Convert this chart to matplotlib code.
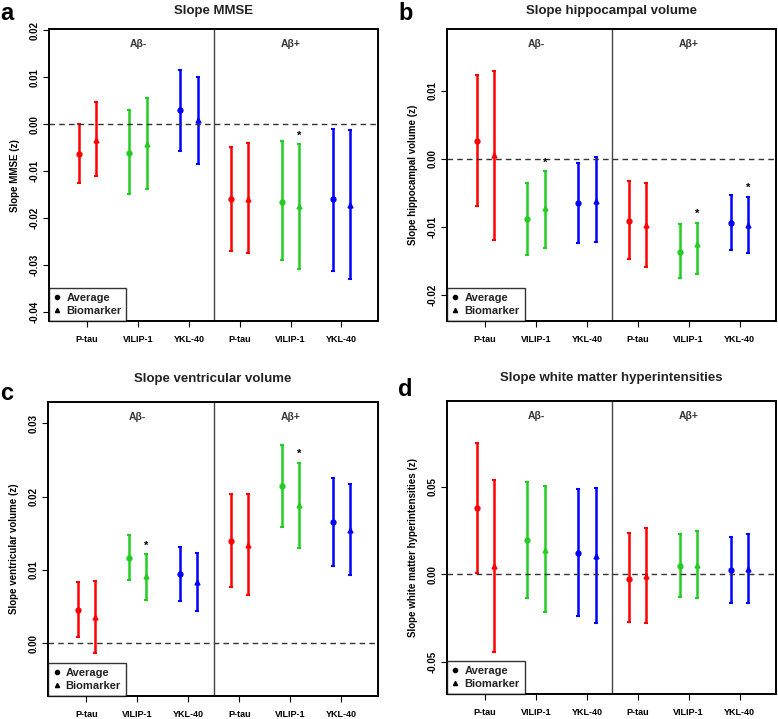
import matplotlib
matplotlib.use("Agg")
import matplotlib.pyplot as plt
import numpy as np

plt.rcParams["font.family"] = ["Liberation Sans", "DejaVu Sans"]

MARKERS = ["P-tau", "VILIP-1", "YKL-40"]
GROUPS = ["Aβ-", "Aβ+"]
COLORS = ["#ff0000", "#22cc22", "#0000ff"]

# order per panel: Aβ- (P-tau, VILIP-1, YKL-40), Aβ+ (P-tau, VILIP-1, YKL-40)
# --- a: MMSE
mmse_avg = [-0.0064, -0.0061, 0.0029, -0.0159, -0.0165, -0.0160]
mmse_avg_lo = [-0.0126, -0.0148, -0.0057, -0.0270, -0.0290, -0.0312]
mmse_avg_hi = [0.0000, 0.0029, 0.0114, -0.0048, -0.0037, -0.0011]
mmse_bio = [-0.0034, -0.0043, 0.0009, -0.0159, -0.0175, -0.0172]
mmse_bio_lo = [-0.0110, -0.0139, -0.0084, -0.0275, -0.0308, -0.0330]
mmse_bio_hi = [0.0046, 0.0055, 0.0100, -0.0040, -0.0043, -0.0013]
mmse_star = [4]

# --- b: hippocampal volume
hip_avg = [0.0026, -0.0089, -0.0065, -0.0091, -0.0137, -0.0094]
hip_avg_lo = [-0.0069, -0.0142, -0.0124, -0.0148, -0.0176, -0.0134]
hip_avg_hi = [0.0123, -0.0035, -0.0006, -0.0033, -0.0096, -0.0053]
hip_bio = [0.0005, -0.0073, -0.0062, -0.0098, -0.0125, -0.0098]
hip_bio_lo = [-0.0120, -0.0131, -0.0122, -0.0159, -0.0169, -0.0139]
hip_bio_hi = [0.0130, -0.0018, 0.0002, -0.0035, -0.0094, -0.0056]
hip_star = [1, 4, 5]

# --- c: ventricular volume
ven_avg = [0.0045, 0.0116, 0.0094, 0.0139, 0.0215, 0.0165]
ven_avg_lo = [0.0009, 0.0086, 0.0058, 0.0076, 0.0159, 0.0105]
ven_avg_hi = [0.0083, 0.0148, 0.0131, 0.0203, 0.0270, 0.0225]
ven_bio = [0.0036, 0.0091, 0.0083, 0.0134, 0.0189, 0.0155]
ven_bio_lo = [-0.0014, 0.0059, 0.0044, 0.0066, 0.0130, 0.0093]
ven_bio_hi = [0.0085, 0.0121, 0.0123, 0.0203, 0.0246, 0.0217]
ven_star = [1, 4]

# --- d: white matter hyperintensities
wmh_avg = [0.0378, 0.0193, 0.0120, -0.0025, 0.0048, 0.0025]
wmh_avg_lo = [0.0006, -0.0137, -0.0240, -0.0275, -0.0128, -0.0164]
wmh_avg_hi = [0.0750, 0.0525, 0.0487, 0.0235, 0.0231, 0.0214]
wmh_bio = [0.0044, 0.0139, 0.0103, -0.0008, 0.0052, 0.0030]
wmh_bio_lo = [-0.0445, -0.0216, -0.0280, -0.0279, -0.0134, -0.0164]
wmh_bio_hi = [0.0538, 0.0502, 0.0490, 0.0263, 0.0244, 0.0231]
wmh_star = []

# letter, title, ylabel, axes rect, title y, letter xy, ylim, yticks, data...
PANELS = [
    ("a", "Slope MMSE", "Slope MMSE (z)", [0.063, 0.5535, 0.423, 0.406],
     1 - 11 / 719, (0.0, 1 - 13 / 719),
     (-0.0419, 0.0202), [-0.04, -0.03, -0.02, -0.01, 0.00, 0.01, 0.02],
     mmse_avg, mmse_avg_lo, mmse_avg_hi, mmse_bio, mmse_bio_lo, mmse_bio_hi, mmse_star),
    ("b", "Slope hippocampal volume", "Slope hippocampal volume (z)", [0.5746, 0.5535, 0.423, 0.406],
     1 - 11 / 719, (398 / 778, 1 - 14 / 719),
     (-0.0239, 0.0191), [-0.02, -0.01, 0.00, 0.01],
     hip_avg, hip_avg_lo, hip_avg_hi, hip_bio, hip_bio_lo, hip_bio_hi, hip_star),
    ("c", "Slope ventricular volume", "Slope ventricular volume (z)", [0.062, 0.032, 0.424, 0.409],
     1 - 379 / 719, (0.0, 1 - 393 / 719),
     (-0.0072, 0.0329), [0.00, 0.01, 0.02, 0.03],
     ven_avg, ven_avg_lo, ven_avg_hi, ven_bio, ven_bio_lo, ven_bio_hi, ven_star),
    ("d", "Slope white matter hyperintensities", "Slope white matter hyperintensities (z)",
     [0.5746, 0.0348, 0.423, 0.4075],
     1 - 378 / 719, (398 / 778, 1 - 390 / 719),
     (-0.0685, 0.099), [-0.05, 0.00, 0.05],
     wmh_avg, wmh_avg_lo, wmh_avg_hi, wmh_bio, wmh_bio_lo, wmh_bio_hi, wmh_star),
]

fig = plt.figure(figsize=(7.78, 7.19), dpi=100)
pos = np.arange(1, 7)
off = 0.17

for (letter, title, ylabel, rect, title_y, letter_xy, ylim, yticks,
     avg, alo, ahi, bio, blo, bhi, stars) in PANELS:
    ax = fig.add_axes(rect)
    avg, alo, ahi = map(np.array, (avg, alo, ahi))
    bio, blo, bhi = map(np.array, (bio, blo, bhi))
    for i in range(6):
        c = COLORS[i % 3]
        ax.errorbar(pos[i] - off, avg[i], yerr=[[avg[i] - alo[i]], [ahi[i] - avg[i]]],
                    fmt="o", color=c, ms=3.5, elinewidth=1.8, capsize=1.5, capthick=1.5)
        ax.errorbar(pos[i] + off, bio[i], yerr=[[bio[i] - blo[i]], [bhi[i] - bio[i]]],
                    fmt="^", color=c, ms=3.5, elinewidth=1.8, capsize=1.5, capthick=1.5)
    span = ylim[1] - ylim[0]
    for i in stars:
        ax.text(pos[i] + off, bhi[i] + 0.012 * span, "*", ha="center", va="bottom",
                fontsize=8, fontweight="bold")
    ax.axhline(0, color="#333333", ls=(0, (4, 3)), lw=1.0)
    ax.axvline(3.5, color="#444444", lw=1.0)
    ax.set_xlim(0.25, 6.72)
    ax.set_ylim(*ylim)
    ax.set_xticks(pos)
    ax.set_xticklabels(MARKERS * 2, fontsize=6.5, fontweight="bold")
    ax.tick_params(axis="x", length=4, pad=6)
    ax.set_yticks(yticks)
    ax.set_yticklabels([f"{t:.2f}" for t in yticks], rotation=90, va="center",
                       fontsize=7, fontweight="bold")
    ax.tick_params(axis="y", length=4, pad=3)
    ax.set_ylabel(ylabel, fontsize=7, fontweight="bold", labelpad=7)
    for sp in ax.spines.values():
        sp.set_linewidth(1.4)
    ax.text(2, ylim[1] - 0.035 * span, GROUPS[0], ha="center", va="top",
            fontsize=7.5, fontweight="bold", color="#333333")
    ax.text(5, ylim[1] - 0.035 * span, GROUPS[1], ha="center", va="top",
            fontsize=7.5, fontweight="bold", color="#333333")
    fig.text(rect[0] + rect[2] / 2, title_y, title, ha="center", va="center",
             fontsize=9.5, fontweight="bold", color="#222222")
    fig.text(letter_xy[0], letter_xy[1], letter, fontsize=17,
             fontweight="bold", ha="left", va="center")
    h1 = ax.plot([], [], "o", color="black", ms=3)[0]
    h2 = ax.plot([], [], "^", color="black", ms=3)[0]
    leg = ax.legend([h1, h2], ["Average", "Biomarker"], loc="lower left",
                    fontsize=8, frameon=True, fancybox=False, borderaxespad=0,
                    handlelength=0.6, handletextpad=0.5, labelspacing=0.25,
                    borderpad=0.45)
    leg.get_frame().set_edgecolor("black")
    leg.get_frame().set_linewidth(1.0)
    for t in leg.get_texts():
        t.set_fontweight("bold")
        t.set_color("#222222")

fig.savefig("out.png", dpi=100)
